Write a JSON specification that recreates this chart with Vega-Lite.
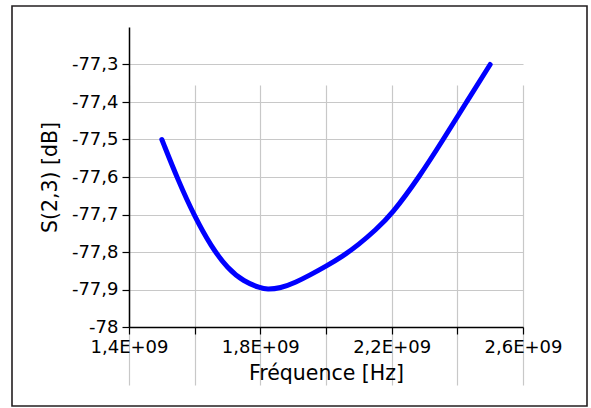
{
  "$schema": "https://vega.github.io/schema/vega-lite/v6.json",
  "width": 575,
  "height": 400,
  "autosize": {"type": "none"},
  "padding": {"left": 12, "top": 6, "right": 4, "bottom": 2},
  "background": "white",
  "config": {
    "view": {"stroke": "#231f20", "strokeWidth": 1.6},
    "font": "DejaVu Sans"
  },
  "data": {
    "values": [
      {"f": 1.50e9, "s": -77.500},
      {"f": 1.55e9, "s": -77.610},
      {"f": 1.60e9, "s": -77.706},
      {"f": 1.65e9, "s": -77.785},
      {"f": 1.70e9, "s": -77.844},
      {"f": 1.75e9, "s": -77.879},
      {"f": 1.80e9, "s": -77.896},
      {"f": 1.82e9, "s": -77.900},
      {"f": 1.86e9, "s": -77.897},
      {"f": 1.91e9, "s": -77.880},
      {"f": 1.95e9, "s": -77.862},
      {"f": 2.00e9, "s": -77.838},
      {"f": 2.05e9, "s": -77.812},
      {"f": 2.10e9, "s": -77.780},
      {"f": 2.15e9, "s": -77.742},
      {"f": 2.20e9, "s": -77.700},
      {"f": 2.284e9, "s": -77.600},
      {"f": 2.357e9, "s": -77.500},
      {"f": 2.428e9, "s": -77.400},
      {"f": 2.50e9, "s": -77.300}
    ]
  },
  "mark": {"type": "line", "color": "#0000ff", "strokeWidth": 5, "strokeCap": "round", "strokeJoin": "round", "interpolate": "basis"},
  "encoding": {
    "x": {
      "field": "f",
      "type": "quantitative",
      "scale": {"domain": [1.4e9, 2.6e9], "range": [117, 511], "nice": false, "zero": false},
      "axis": {
        "orient": "bottom",
        "offset": -79,
        "title": "Fréquence [Hz]",
        "values": [1.4e9, 1.6e9, 1.8e9, 2.0e9, 2.2e9, 2.4e9, 2.6e9],
        "labelExpr": "round(datum.value/1e8) % 4 == 2 ? replace(format(datum.value/1e9, '.1f'), '.', ',') + 'E+09' : ''",
        "labelFont": "DejaVu Sans",
        "labelFontSize": 18,
        "labelColor": "#000000",
        "labelPadding": 4,
        "labelOverlap": false,
        "labelFlush": false,
        "titleFont": "DejaVu Sans",
        "titleFontSize": 20.5,
        "titleFontWeight": "normal",
        "titleColor": "#000000",
        "titlePadding": 7,
        "domainColor": "#000000",
        "domainWidth": 1.5,
        "tickColor": "#000000",
        "tickWidth": 1.2,
        "tickSize": 7,
        "grid": true,
        "gridColor": "#c8c8c8",
        "gridWidth": 1.2
      }
    },
    "y": {
      "field": "s",
      "type": "quantitative",
      "scale": {"domain": [-78, -77.2], "range": [321, 21], "nice": false, "zero": false},
      "axis": {
        "orient": "left",
        "offset": -117,
        "title": "S(2,3) [dB]",
        "values": [-78, -77.9, -77.8, -77.7, -77.6, -77.5, -77.4, -77.3],
        "labelExpr": "replace(replace(format(datum.value, '.1~f'), '.', ','), '\u2212', '-')",
        "labelFont": "DejaVu Sans",
        "labelFontSize": 18,
        "labelColor": "#000000",
        "labelPadding": 4,
        "labelOverlap": false,
        "labelFlush": false,
        "titleFont": "DejaVu Sans",
        "titleFontSize": 20.5,
        "titleFontWeight": "normal",
        "titleColor": "#000000",
        "titlePadding": 11,
        "domainColor": "#000000",
        "domainWidth": 1.5,
        "tickColor": "#000000",
        "tickWidth": 1.2,
        "tickSize": 7,
        "grid": true,
        "gridColor": "#c8c8c8",
        "gridWidth": 1.2
      }
    }
  }
}
